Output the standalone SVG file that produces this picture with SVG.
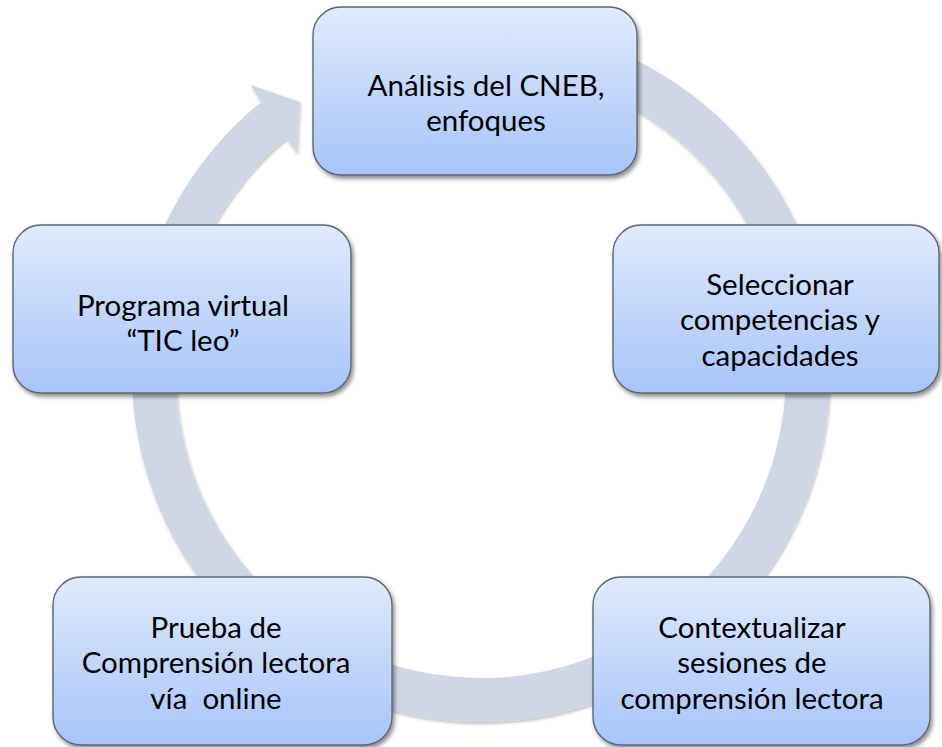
<svg xmlns="http://www.w3.org/2000/svg" width="942" height="747" viewBox="0 0 942 747">
  <defs>
    <linearGradient id="boxFill" x1="0" y1="0" x2="0" y2="1">
      <stop offset="0" stop-color="#E0EAFC"/>
      <stop offset="1" stop-color="#A7C4F9"/>
    </linearGradient>
    <filter id="boxShadow" x="-10%" y="-10%" width="125%" height="130%">
      <feDropShadow dx="2" dy="3" stdDeviation="2.2" flood-color="#000" flood-opacity="0.45"/>
    </filter>
    <filter id="ringShadow" x="-10%" y="-10%" width="120%" height="120%">
      <feDropShadow dx="1" dy="2" stdDeviation="1.5" flood-color="#000" flood-opacity="0.25"/>
    </filter>
  </defs>
  <style>
    .box { fill: url(#boxFill); stroke: #5E6670; stroke-width: 1.4; filter: url(#boxShadow); }
    .ring { fill: #CFD7E6; filter: url(#ringShadow); }
    .lbl { font-family: Lato, "Liberation Sans", sans-serif; font-size: 29.5px; fill: #000; text-anchor: middle; white-space: pre; }
  </style>
  <rect width="942" height="747" fill="#FFFFFF"/>
  <g id="connectors">
    <path class="ring" d="M 361.6 45.1 A 349 349 0 1 1 260.9 102.2 L 251 85 L 300 102 L 297 153 L 286.2 138.3 A 305 305 0 1 0 376.7 86.4 Z"/>
  </g>
  <g id="node-analisis">
    <rect class="box" x="313" y="7" width="324" height="168" rx="28"/>
    <text class="lbl" x="486" y="95.75">Análisis del CNEB,</text>
    <text class="lbl" x="486" y="131.25">enfoques</text>
  </g>
  <g id="node-seleccionar">
    <rect class="box" x="613" y="225" width="326" height="168" rx="28"/>
    <text class="lbl" x="780" y="294.5">Seleccionar</text>
    <text class="lbl" x="780" y="330">competencias y</text>
    <text class="lbl" x="780" y="365.5">capacidades</text>
  </g>
  <g id="node-contextualizar">
    <rect class="box" x="593" y="577" width="337" height="168" rx="28"/>
    <text class="lbl" x="752" y="637.5">Contextualizar</text>
    <text class="lbl" x="752" y="673">sesiones de</text>
    <text class="lbl" x="752" y="708.5">comprensión lectora</text>
  </g>
  <g id="node-prueba">
    <rect class="box" x="53" y="577" width="339" height="168" rx="28"/>
    <text class="lbl" x="216" y="637.5">Prueba de</text>
    <text class="lbl" x="216" y="673">Comprensión lectora</text>
    <text class="lbl" x="216" y="708.5">vía  online</text>
  </g>
  <g id="node-programa">
    <rect class="box" x="13" y="225" width="338" height="168" rx="28"/>
    <text class="lbl" x="183" y="315.75">Programa virtual</text>
    <text class="lbl" x="183" y="351.25">“TIC leo”</text>
  </g>
</svg>
